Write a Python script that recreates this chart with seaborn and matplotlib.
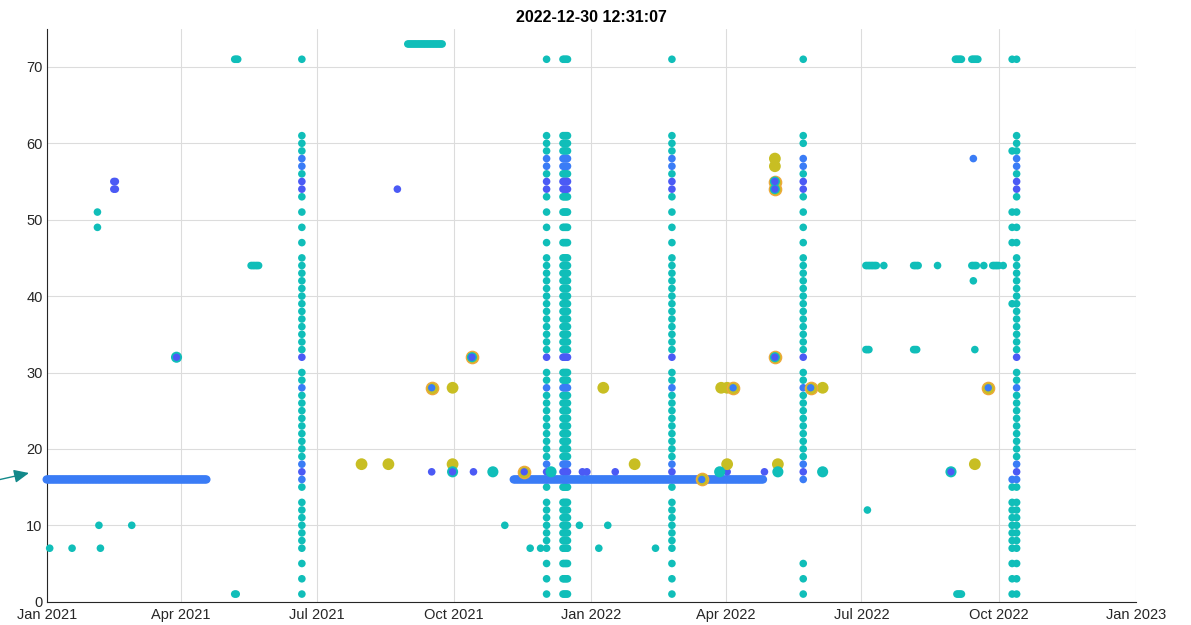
import numpy as np
import pandas as pd
import matplotlib
matplotlib.use("Agg")
import matplotlib.pyplot as plt
import matplotlib.dates as mdates
import seaborn as sns

# ---------------- colours ----------------
TEAL = "#10BEB9"
BLUE = "#3A7CF6"
PURPLE = "#4B5AF5"
OLIVE = "#C8BE23"
RING = "#EDA93A"
ARROW = "#12898A"

# ---------------- data ----------------
TITLE = "2022-12-30 12:31:07"

# y-values of a full "scan column"
col_teal = [71, 61, 60, 59, 56, 53, 51, 49, 47, 45, 44, 43, 42, 41, 40, 39, 38,
            37, 36, 35, 34, 33, 30, 29, 27, 26, 25, 24, 23, 22, 21, 20, 19, 15,
            13, 12, 11, 10, 9, 8, 7, 5, 3, 1]
col_blue = [58, 57, 28, 18, 16]
col_purple = [55, 54, 32, 17]
col_dates = ["2021-06-21", "2021-12-02", "2021-12-13", "2021-12-14",
             "2021-12-15", "2021-12-16", "2022-02-24", "2022-10-13"]

# partial column (May 2022)
colE_date = "2022-05-23"
colE_teal = [71, 61, 60, 56, 53, 51, 49, 47, 45, 44, 43, 42, 41, 40, 39, 38, 37,
             36, 35, 34, 33, 30, 29, 27, 26, 25, 24, 23, 22, 21, 20, 19, 5, 3, 1]

# extra values next to the Oct 2022 column
colF2_date = "2022-10-10"
colF2_teal = [71, 59, 51, 49, 47, 39, 15, 13, 12, 11, 10, 9, 8, 7, 5, 3, 1]
colF2_blue = [16]

# daily runs (start, end, value)
blue_runs = [("2021-01-01", "2021-04-18", 16), ("2021-11-10", "2022-04-26", 16)]
teal_runs = [("2021-05-07", "2021-05-09", 71), ("2021-05-07", "2021-05-08", 1),
             ("2021-05-18", "2021-05-23", 44), ("2021-08-31", "2021-09-23", 73),
             ("2022-07-04", "2022-07-11", 44), ("2022-07-04", "2022-07-06", 33),
             ("2022-08-05", "2022-08-08", 44), ("2022-08-05", "2022-08-07", 33),
             ("2022-09-02", "2022-09-06", 71), ("2022-09-13", "2022-09-17", 71),
             ("2022-09-03", "2022-09-06", 1), ("2022-09-13", "2022-09-16", 44),
             ("2022-09-27", "2022-10-01", 44)]

teal_small_dates = ["2021-01-03", "2021-01-18", "2021-02-04", "2021-02-04",
                    "2021-02-05", "2021-02-06", "2021-02-27", "2021-11-04",
                    "2021-11-21", "2021-11-28", "2021-12-24", "2022-01-06",
                    "2022-01-12", "2022-02-13", "2022-07-05", "2022-07-16",
                    "2022-08-21", "2022-09-14", "2022-09-15", "2022-09-21",
                    "2022-10-04"]
teal_small_vals = [7, 7, 51, 49, 10, 7, 10, 10, 7, 7, 10, 7, 10, 7, 12, 44, 44,
                   42, 33, 44, 44]

purple_small_dates = ["2021-02-15", "2021-02-16", "2021-02-15", "2021-02-16",
                      "2021-08-24", "2021-09-16", "2021-10-14", "2021-12-26",
                      "2021-12-29", "2022-01-17", "2022-04-02", "2022-04-27"]
purple_small_vals = [55, 55, 54, 54, 54, 17, 17, 17, 17, 17, 17, 17]

blue_small_dates = ["2022-09-14"]
blue_small_vals = [58]

teal_large_dates = ["2021-10-27", "2021-12-05", "2022-03-28", "2022-05-06",
                    "2022-06-05", "2021-09-30", "2022-08-30", "2021-03-29"]
teal_large_vals = [17, 17, 17, 17, 17, 17, 17, 32]

olive_dates = ["2021-07-31", "2021-08-18", "2021-09-30", "2021-09-30",
               "2022-01-09", "2022-01-30", "2022-03-29", "2022-04-02",
               "2022-04-02", "2022-05-04", "2022-05-04", "2022-05-06",
               "2022-06-05", "2022-09-15"]
olive_vals = [18, 18, 28, 18, 28, 18, 28, 28, 18, 58, 57, 18, 28, 18]

# olive markers with an orange rim
ringed_dates = ["2021-09-16", "2021-11-17", "2022-03-16", "2022-04-06",
                "2022-05-28", "2022-09-24", "2021-10-13", "2022-05-04",
                "2022-05-04", "2022-05-04"]
ringed_vals = [28, 17, 16, 28, 28, 28, 32, 55, 54, 32]

# teal middles inside the rimmed markers
mid_teal_dates = ["2021-10-13", "2022-05-04", "2022-05-04", "2022-05-04"]
mid_teal_vals = [32, 55, 54, 32]

# small centres of layered markers
centre_blue_dates = ["2021-09-16", "2022-03-16", "2022-04-06", "2022-05-28",
                     "2022-09-24"]
centre_blue_vals = [28, 16, 28, 28, 28]
centre_purple_dates = ["2021-11-17", "2021-10-13", "2022-05-04", "2022-05-04",
                       "2022-05-04", "2021-09-30", "2022-08-30", "2021-03-29"]
centre_purple_vals = [17, 32, 55, 54, 32, 17, 17, 32]

# ---------------- figure ----------------
sns.set_theme(style="white")
plt.rcParams["font.family"] = ["Liberation Sans", "DejaVu Sans"]

W, H = 1191, 625
fig = plt.figure(figsize=(W / 100, H / 100), dpi=100)
L, R, B, T = 46.7, 1136.0, 601.7, 28.7
ax = fig.add_axes([L / W, (H - B) / H, (R - L) / W, (B - T) / H])


def dots(dates, vals, color, size, z, edge="none", lw=0.0):
    df = pd.DataFrame({"date": pd.to_datetime(dates), "y": vals})
    sns.scatterplot(data=df, x="date", y="y", ax=ax, color=color, s=size,
                    edgecolor=edge, linewidth=lw, zorder=z, legend=False,
                    clip_on=False)


def expand(runs):
    d, v = [], []
    for s, e, val in runs:
        rng = pd.date_range(s, e, freq="D")
        d += list(rng)
        v += [val] * len(rng)
    return d, v


SMALL = 30
# columns
cd, ct = [], []
cbd, cbv = [], []
cpd, cpv = [], []
for d in col_dates:
    cd += [d] * len(col_teal); ct += col_teal
    cbd += [d] * len(col_blue); cbv += col_blue
    cpd += [d] * len(col_purple); cpv += col_purple
cd += [colE_date] * len(colE_teal); ct += colE_teal
cbd += [colE_date] * len(col_blue); cbv += col_blue
cpd += [colE_date] * len(col_purple); cpv += col_purple
cd += [colF2_date] * len(colF2_teal); ct += colF2_teal
cbd += [colF2_date] * len(colF2_blue); cbv += colF2_blue

td, tv = expand(teal_runs)
dots(cd + td + teal_small_dates, ct + tv + teal_small_vals, TEAL, SMALL, 2)
dots(cbd, cbv, BLUE, SMALL, 3)
dots(cpd, cpv, PURPLE, SMALL, 3)

bd, bv = expand(blue_runs)
dots(bd, bv, BLUE, 36, 4)

dots(purple_small_dates, purple_small_vals, PURPLE, SMALL, 5)
dots(blue_small_dates, blue_small_vals, BLUE, SMALL, 5)

dots(olive_dates, olive_vals, OLIVE, 72, 6)
dots(ringed_dates, ringed_vals, OLIVE, 78, 6, edge=RING, lw=1.0)
dots(teal_large_dates, teal_large_vals, TEAL, 64, 7)
dots(mid_teal_dates, mid_teal_vals, TEAL, 52, 8)
dots(centre_blue_dates, centre_blue_vals, BLUE, 28, 9)
dots(centre_purple_dates, centre_purple_vals, PURPLE, 28, 9)

# ---------------- axes styling ----------------
ax.set_xlim(pd.Timestamp("2021-01-01"), pd.Timestamp("2023-01-01"))
ax.set_ylim(0, 75)
ax.set_yticks(np.arange(0, 71, 10))
ax.xaxis.set_major_locator(mdates.MonthLocator(bymonth=[1, 4, 7, 10]))
ax.xaxis.set_major_formatter(mdates.DateFormatter("%b %Y"))
ax.set_xlabel("")
ax.set_ylabel("")

ax.grid(True, color="#DCDCDC", linewidth=0.8)
ax.set_axisbelow(True)
for s in ["top", "right"]:
    ax.spines[s].set_visible(False)
for s in ["left", "bottom"]:
    ax.spines[s].set_color("#262626")
    ax.spines[s].set_linewidth(0.8)
    ax.spines[s].set_zorder(1)
ax.tick_params(axis="both", direction="in", length=7.8, width=0.8,
               color="#262626", labelcolor="#262626", labelsize=10.5)
ax.tick_params(axis="x", pad=4.5)
ax.tick_params(axis="y", pad=3)

ax.set_title(TITLE, fontsize=11.5, fontweight="bold", pad=5, color="black")

ax.annotate("", xy=(29 / W, 1 - 473 / H), xytext=(0.0, 1 - 479.5 / H),
            xycoords="figure fraction", textcoords="figure fraction",
            arrowprops=dict(arrowstyle="-|>,head_length=0.45,head_width=0.2",
                            mutation_scale=20, color=ARROW, lw=1.0,
                            shrinkA=0, shrinkB=0),
            annotation_clip=False)

fig.savefig("out.png", dpi=100)
